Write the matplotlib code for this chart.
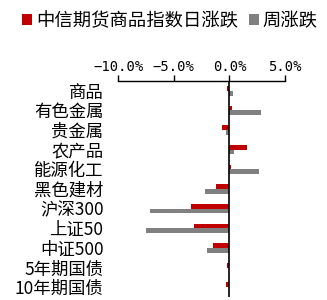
import matplotlib.pyplot as plt
import numpy as np

plt.rcParams['font.family'] = ['Noto Sans CJK SC', 'DejaVu Sans']

# data (percent)
categories = ["商品", "有色金属", "贵金属", "农产品", "能源化工", "黑色建材",
              "沪深300", "上证50", "中证500", "5年期国债", "10年期国债"]
daily = [-0.2, 0.2, -0.65, 1.6, 0.1, -1.25, -3.45, -3.15, -1.5, -0.24, -0.27]
weekly = [0.3, 2.85, -0.35, 0.4, 2.65, -2.2, -7.1, -7.5, -2.0, -0.03, 0.0]
xticks = [-10, -5, 0, 5]

RED = "#C00000"
GRAY = "#808080"

fig = plt.figure(figsize=(3.27, 3.0), dpi=100)
ax = fig.add_axes([0.361, 0.01, 0.511, 0.72])

y = np.arange(len(categories))
h = 0.24
ax.barh(y - h / 2, daily, height=h, color=RED, label="中信期货商品指数日涨跌")
ax.barh(y + h / 2, weekly, height=h, color=GRAY, label="周涨跌")

ax.set_xlim(-10, 5)
ax.set_ylim(len(categories) - 0.5, -0.5)
ax.axvline(0, color="black", lw=1.2)

ax.xaxis.tick_top()
ax.set_xticks(xticks)
ax.set_xticklabels([f"{v:.1f}%".replace("-", "−") for v in xticks],
                   fontsize=10, family=["DejaVu Sans Mono"])
ax.tick_params(axis="x", direction="out", length=4, width=1, pad=1)
ax.set_yticks(y)
ax.set_yticklabels(categories, fontsize=12.5)
ax.tick_params(axis="y", length=0, pad=10.5)

for s in ["bottom", "left", "right"]:
    ax.spines[s].set_visible(False)
ax.spines["top"].set_linewidth(1)

fig.legend(loc="upper left", bbox_to_anchor=(0.04, 0.99), ncol=2, frameon=False,
           fontsize=13.2, handlelength=0.55, handleheight=0.55, handletextpad=0.2,
           columnspacing=0.6, borderaxespad=0.1)

fig.savefig("out.png", dpi=100)
